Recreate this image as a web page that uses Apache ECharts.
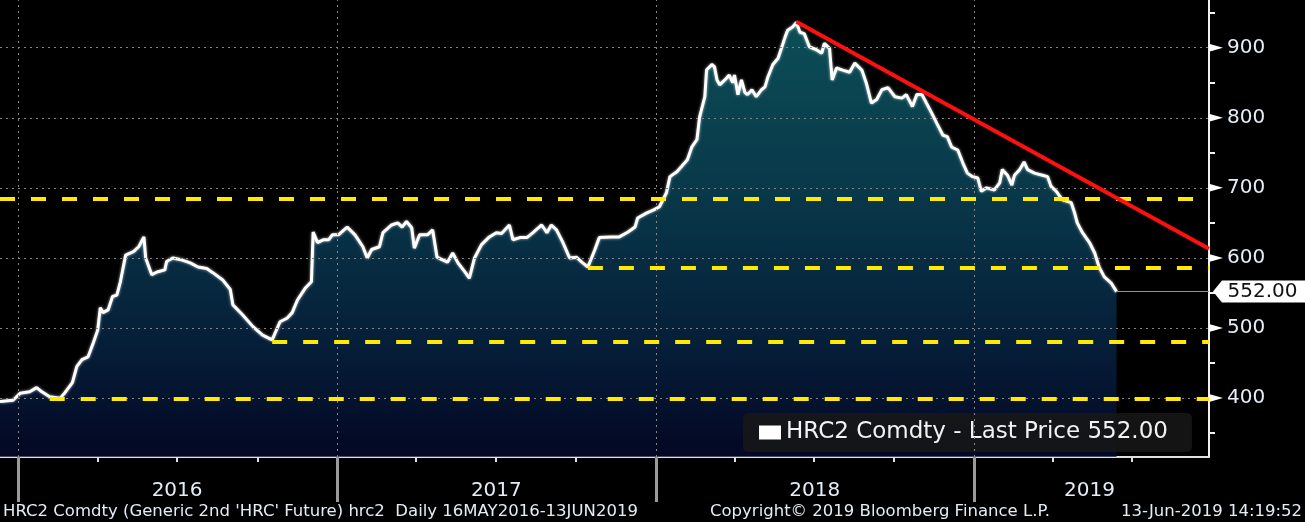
<!DOCTYPE html>
<html>
<head>
<meta charset="utf-8">
<script src="https://cdn.jsdelivr.net/npm/echarts@6/dist/echarts.min.js"></script>
<style>
html,body{margin:0;padding:0;background:#000;}
#c{width:1305px;height:522px;}
</style>
</head>
<body>
<div id="c"></div>
<script>
// ---------------- DATA ----------------
const dates = [
'2015-12-11','2015-12-26','2016-01-03','2016-01-14','2016-01-22','2016-01-28','2016-02-06','2016-02-18','2016-02-23','2016-03-03',
'2016-03-08','2016-03-14','2016-03-21','2016-03-27','2016-04-01','2016-04-04','2016-04-07','2016-04-13','2016-04-18','2016-04-23',
'2016-04-27','2016-05-03','2016-05-12','2016-05-18','2016-05-24','2016-05-26','2016-06-02','2016-06-08','2016-06-17','2016-06-19',
'2016-06-26','2016-07-07','2016-07-16','2016-07-25','2016-08-04','2016-08-11','2016-08-22','2016-08-31','2016-09-03','2016-09-14',
'2016-09-26','2016-10-07','2016-10-18','2016-10-27','2016-11-04','2016-11-10','2016-11-16','2016-11-25','2016-12-02','2016-12-04',
'2016-12-09','2016-12-16','2016-12-22','2016-12-26','2017-01-02','2017-01-12','2017-01-21','2017-01-30','2017-02-04','2017-02-09',
'2017-02-18','2017-02-22','2017-03-04','2017-03-11','2017-03-16','2017-03-21','2017-03-27','2017-03-30','2017-04-05','2017-04-14',
'2017-04-20','2017-04-25','2017-05-02','2017-05-07','2017-05-13','2017-05-19','2017-05-27','2017-06-01','2017-06-07','2017-06-15',
'2017-06-24','2017-07-02','2017-07-08','2017-07-17','2017-07-21','2017-07-29','2017-08-06','2017-08-13','2017-08-23','2017-08-29',
'2017-09-03','2017-09-09','2017-09-16','2017-09-24','2017-10-02','2017-10-08','2017-10-15','2017-10-23','2017-10-28','2017-11-11',
'2017-11-20','2017-11-30','2017-12-08','2017-12-11','2017-12-21','2017-12-30','2018-01-05','2018-01-13','2018-01-17','2018-01-25',
'2018-01-30','2018-02-06','2018-02-11','2018-02-17','2018-02-20','2018-02-26','2018-02-28','2018-03-06','2018-03-09','2018-03-12',
'2018-03-15','2018-03-21','2018-03-26','2018-03-30','2018-04-01','2018-04-05','2018-04-09','2018-04-13','2018-04-16','2018-04-21',
'2018-04-26','2018-05-02','2018-05-06','2018-05-09','2018-05-15','2018-05-21','2018-05-25','2018-05-29','2018-06-01','2018-06-07',
'2018-06-11','2018-06-15','2018-06-20','2018-06-26','2018-07-04','2018-07-10','2018-07-13','2018-07-19','2018-07-22','2018-07-27',
'2018-08-03','2018-08-11','2018-08-17','2018-08-25','2018-08-30','2018-09-05','2018-09-11','2018-09-17','2018-09-24','2018-10-02',
'2018-10-10','2018-10-15','2018-10-22','2018-10-27','2018-11-02','2018-11-07','2018-11-13','2018-11-19','2018-11-26','2018-12-01',
'2018-12-06','2018-12-13','2018-12-19','2018-12-24','2018-12-30','2019-01-05','2019-01-09','2019-01-15','2019-01-24','2019-01-30',
'2019-02-02','2019-02-08','2019-02-13','2019-02-16','2019-02-22','2019-02-27','2019-03-03','2019-03-11','2019-03-20','2019-03-26',
'2019-03-30','2019-04-05','2019-04-12','2019-04-22','2019-04-26','2019-04-29','2019-05-05','2019-05-13','2019-05-19','2019-05-24',
'2019-05-30','2019-06-07','2019-06-13'
];
const prices = [
395,397,407,409,415,409,402,400,407,422,
445,455,459,479,497,529,522,526,545,547,
566,604,609,616,630,600,576,580,583,595,
600,597,593,587,585,579,569,555,533,519,
502,490,483,509,514,522,540,557,566,637,
622,626,626,633,633,644,633,616,600,612,
616,636,647,650,644,652,643,614,633,633,
640,601,597,594,607,593,580,571,600,619,
630,636,635,647,626,629,629,636,647,636,
647,640,623,600,601,594,587,612,629,630,
630,637,644,657,664,669,673,693,716,723,
730,740,758,769,801,830,868,876,873,854,
847,854,861,850,861,833,854,836,833,840,
830,840,844,857,876,885,900,915,925,930,
936,922,920,901,897,892,906,899,854,871,
868,865,878,868,850,821,826,840,843,830,
828,833,816,833,833,821,807,792,775,773,
758,754,735,721,716,714,695,700,697,707,
726,718,704,718,726,737,726,721,718,716,
702,695,683,679,664,650,636,622,607,587,
573,564,552
];
const yTickValues = [400, 500, 600, 700, 800, 900];
const yMinorTickValues = [350, 450, 550, 650, 750, 850, 950];
const yearStarts = ['2016-01-01', '2017-01-01', '2018-01-01', '2019-01-01'];
const quarterTicks = ['2016-04-01','2016-07-01','2016-10-01','2017-04-01','2017-07-01','2017-10-01',
                      '2018-04-01','2018-07-01','2018-10-01','2019-04-01','2019-07-01'];
const yearLabelDates = ['2016-07-01', '2017-07-02', '2018-07-02', '2019-05-13'];
const supportLevels = [399, 480, 586, 684];
const supportStarts = ['2016-02-06', '2016-10-18', '2017-10-15', '2015-12-11'];
const trendStartDate = '2018-06-11';
const trendStartValue = 937;
const trendEndValue = 613;
const xMinDate = '2015-12-11';
const xMaxDate = '2019-09-27';
const yMin = 316, yMax = 968;
const seriesName = 'HRC2 Comdty - Last Price 552.00';
const footerLeft = "HRC2 Comdty (Generic 2nd 'HRC' Future) hrc2  Daily 16MAY2016-13JUN2019";
const footerMid = 'Copyright\u00A9 2019 Bloomberg Finance L.P.';
const footerRight = '13-Jun-2019 14:19:52';

// ---------------- CHART ----------------
const P = s => { const [y, m, d] = s.split('-').map(Number); return new Date(y, m - 1, d).getTime(); };
const xMin = P(xMinDate), xMax = P(xMaxDate);
const data = dates.map((d, i) => [P(d), prices[i]]);
const lastDate = P(dates[dates.length - 1]);
const lastPrice = prices[prices.length - 1];
const FONT = 'DejaVu Sans';
const TXT = '#e4ecf6';

const gridLineStyle = { color: '#858585', width: 1, type: [2, 4] };
const markLines = [];
yTickValues.forEach(v => markLines.push({ yAxis: v, lineStyle: gridLineStyle }));
yearStarts.forEach(d => markLines.push({ xAxis: P(d), lineStyle: gridLineStyle }));
supportLevels.forEach((v, i) => markLines.push([
  { coord: [P(supportStarts[i]), v], lineStyle: { color: '#ffea00', width: 4, type: [15, 16] } },
  { coord: [xMax, v] }
]));
markLines.push([
  { coord: [P(trendStartDate), trendStartValue], lineStyle: { color: '#ff1010', width: 4, type: 'solid' } },
  { coord: [xMax, trendEndValue] }
]);
markLines.push([
  { coord: [lastDate, lastPrice], lineStyle: { color: '#d68a1e', width: 1, type: 'solid' } },
  { coord: [xMax, lastPrice] }
]);

const markPoints = yTickValues.map(v => ({
  coord: [xMax, v], symbol: 'path://M0,0L14,4L0,8Z', symbolSize: [14, 8], symbolOffset: [7, 0],
  itemStyle: { color: '#ffffff' }, label: { show: false }
}));
markPoints.push({
  coord: [xMax, lastPrice], symbol: 'path://M0,11L9,0L93,0L93,22L9,22Z', symbolSize: [93, 22],
  symbolOffset: [50.5, 0], itemStyle: { color: '#ffffff' },
  label: { show: true, position: 'inside', formatter: lastPrice.toFixed(2), color: '#111', fontSize: 20, fontFamily: FONT, offset: [3, 0] }
});

const footStyle = { color: TXT, fontSize: 16.5, fontWeight: 'normal', fontFamily: FONT };
const chart = echarts.init(document.getElementById('c'), null, { renderer: 'canvas' });
chart.setOption({
  backgroundColor: '#000',
  animation: false,
  title: [
    { text: footerLeft, left: 3, top: 503, textStyle: footStyle, padding: 0 },
    { text: footerMid, left: 710, top: 503, textStyle: footStyle, padding: 0 },
    { text: footerRight, right: 3, top: 503, textStyle: footStyle, padding: 0 }
  ],
  legend: {
    data: [{ name: seriesName, icon: 'rect', itemStyle: { color: '#ffffff' } }],
    left: 743, top: 413, itemWidth: 22, itemHeight: 14, padding: [8, 24, 8, 16],
    backgroundColor: 'rgba(24,24,24,0.85)', borderRadius: 5, selectedMode: false,
    textStyle: { color: '#f2f2f2', fontSize: 23, fontFamily: FONT }
  },
  grid: { left: 0, right: 96, top: 0, bottom: 65, containLabel: false },
  xAxis: [{
    type: 'value', min: xMin, max: xMax, scale: true,
    axisLine: { show: true, onZero: false, lineStyle: { color: '#e0e0e0', width: 2 } },
    axisTick: { show: true, customValues: quarterTicks.map(P), length: 5, lineStyle: { color: '#e0e0e0', width: 2 } },
    axisLabel: { show: true, customValues: yearLabelDates.map(P), formatter: v => String(new Date(v).getFullYear()),
      color: TXT, fontSize: 20, fontFamily: FONT, margin: 24, hideOverlap: false },
    splitLine: { show: false }
  }, {
    type: 'value', min: xMin, max: xMax, scale: true, position: 'bottom',
    axisLine: { show: false, onZero: false },
    axisTick: { show: true, customValues: yearStarts.map(P), length: 45, lineStyle: { color: '#9a9a9a', width: 3 } },
    axisLabel: { show: false },
    splitLine: { show: false }
  }],
  yAxis: {
    type: 'value', position: 'right', min: yMin, max: yMax, scale: true,
    axisLine: { show: true, onZero: false, lineStyle: { color: '#f0f0f0', width: 2 } },
    axisTick: { show: true, customValues: yMinorTickValues, length: 6, lineStyle: { color: '#f0f0f0', width: 2 } },
    axisLabel: { show: true, customValues: yTickValues, margin: 18, color: TXT, fontSize: 20, fontFamily: FONT },
    splitLine: { show: false }
  },
  series: [{
    type: 'line', name: seriesName, data: data, xAxisIndex: 0,
    showSymbol: false, symbol: 'none',
    lineStyle: { color: '#ffffff', width: 3, shadowColor: 'rgba(255,255,255,0.7)', shadowBlur: 3 },
    itemStyle: { color: '#ffffff' },
    areaStyle: { origin: 'start', color: new echarts.graphic.LinearGradient(0, 0, 0, 1, [
      { offset: 0, color: '#10707c' }, { offset: 0.4, color: '#0c4f68' },
      { offset: 0.75, color: '#082a50' }, { offset: 1, color: '#050a32' }
    ]) },
    markLine: { symbol: 'none', silent: true, label: { show: false }, data: markLines },
    markPoint: { silent: true, data: markPoints }
  }]
});
</script>
</body>
</html>
